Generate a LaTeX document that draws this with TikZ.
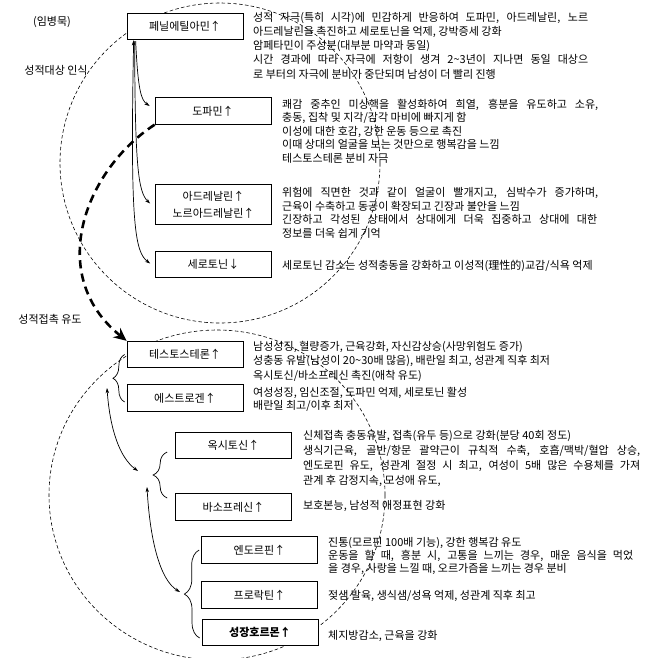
\documentclass[tikz,border=0pt]{standalone}
\usepackage{fontspec}
\setmainfont{Noto Sans CJK KR}
\usetikzlibrary{arrows.meta,calc,decorations.pathreplacing}

\newcommand\figfont{\fontsize{9.4pt}{11.6pt}\selectfont}
\newcommand\jline[2]{\makebox[#1][s]{#2}}

\begin{document}
\begin{tikzpicture}[
  x=0.03cm, y=-0.03cm,
  font=\figfont,
  box/.style={draw, line width=0.6pt, fill=white, align=center, minimum width=3.48cm, minimum height=0.8cm, inner sep=1pt},
  note/.style={anchor=north west, inner sep=0pt, align=left, font=\fontsize{9.4pt}{#1}\selectfont},
  note/.default=11.6pt,
  side/.style={inner sep=0pt},
  zone/.style={dash pattern=on 3pt off 2pt, line width=0.5pt},
  arrow/.style={-{Stealth[length=4.5pt,width=3pt]}, line width=0.6pt},
  twoway/.style={{Stealth[length=4.5pt,width=3pt]}-{Stealth[length=4.5pt,width=3pt]}, line width=0.6pt},
  flow/.style={-{Stealth[length=11pt,width=10pt]}, line width=2.2pt, dash pattern=on 7pt off 4.5pt},
  curly/.style={decorate, decoration={brace, amplitude=#1}, line width=0.6pt}
]
\useasboundingbox (0,0) rectangle (649,658);

% the two dashed zones
\begin{scope}
  \clip (0,0) rectangle (649,658);
  \draw[zone] (220,163) ellipse [x radius=160, y radius=160];
  \draw[zone] (217,495) ellipse [x radius=168, y radius=165];
\end{scope}

% side labels
\node[side] (author) at (52,22) {(임병묵)};
\node[side] (notice) at (56,70) {성적대상 인식};
\node[side] (contact) at (50,319) {성적접촉 유도};

% hormone boxes
\node[box] (phenyl) at (185,26.5) {페닐에틸아민↑};
\node[box] (dopamine) at (213,111) {도파민↑};
\node[box, minimum height=1.2cm, font=\fontsize{9.4pt}{14.5pt}\selectfont] (adrenaline) at (213.5,204.5) {아드레날린↑\\노르아드레날린↑};
\node[box] (serotonin) at (213.5,264.5) {세로토닌↓};
\node[box] (testosterone) at (185,354.5) {테스토스테론↑};
\node[box] (estrogen) at (185,398) {에스트로겐↑};
\node[box] (oxytocin) at (233.5,445.5) {옥시토신↑};
\node[box] (vasopressin) at (233.5,507) {바소프레신↑};
\node[box] (endorphin) at (259.5,550) {엔도르핀↑};
\node[box] (prolactin) at (259.5,595) {프로락틴↑};
\node[box, font=\figfont\bfseries] (growth) at (260,632.5) {성장호르몬↑};

% notes beside the boxes
\node[note=12.1pt] (phenylNote) at (253,12)
  {\jline{10.05cm}{성적 자극(특히 시각)에 민감하게 반응하여 도파민, 아드레날린, 노르}\\
   아드레날린을 촉진하고 세로토닌을 억제, 강박증세 강화\\
   암페타민이 주성분(대부분 마약과 동일)\\
   \jline{10.05cm}{시간 경과에 따라 자극에 저항이 생겨 2\textasciitilde3년이 지나면 동일 대상으}\\
   로 부터의 자극에 분비가 중단되며 남성이 더 빨리 진행};
\node[note=11.5pt] (dopamineNote) at (282,99)
  {\jline{9.48cm}{쾌감 중추인 미상핵을 활성화하여 희열, 흥분을 유도하고 소유,}\\
   충동, 집착 및 지각/감각 마비에 빠지게 함\\
   이성에 대한 호감, 강한 운동 등으로 촉진\\
   이때 상대의 얼굴을 보는 것만으로 행복감을 느낌\\
   테스토스테론 분비 자극};
\node[note=11.7pt] (adrenalineNote) at (282,187)
  {\jline{9.48cm}{위험에 직면한 것과 같이 얼굴이 빨개지고, 심박수가 증가하며,}\\
   근육이 수축하고 동공이 확장되고 긴장과 불안을 느낌\\
   \jline{9.45cm}{긴장하고 각성된 상태에서 상대에게 더욱 집중하고 상대에 대한}\\
   정보를 더욱 쉽게 기억};
\node[note] (serotoninNote) at (282,260)
  {세로토닌 감소는 성적충동을 강화하고 이성적(理性的)교감/식욕 억제};
\node[note=12.3pt] (testosteroneNote) at (253,341)
  {남성성징, 혈량증가, 근육강화, 자신감상승(사망위험도 증가)\\
   성충동 유발(남성이 20\textasciitilde30배 많음), 배란일 최고, 성관계 직후 최저\\
   옥시토신/바소프레신 촉진(애착 유도)};
\node[note=11.1pt] (estrogenNote) at (253,387)
  {여성성징, 임신조절, 도파민 억제, 세로토닌 활성\\
   배란일 최고/이후 최저};
\node[note=12.8pt] (oxytocinNote) at (303,430)
  {신체접촉 충동유발, 접촉(유두 등)으로 강화(분당 40회 정도)\\
   \jline{10.11cm}{생식기근육, 골반/항문 괄약근이 규칙적 수축, 호흡/맥박/혈압 상승,}\\
   \jline{10.11cm}{엔도로핀 유도, 성관계 절정 시 최고, 여성이 5배 많은 수용체를 가져}\\
   관계 후 감정지속, 모성애 유도,};
\node[note] (vasopressinNote) at (303,500) {보호본능, 남성적 애정표현 강화};
\node[note=11.3pt] (endorphinNote) at (328,537)
  {진통(모르핀 100배 기능), 강한 행복감 유도\\
   \jline{9.15cm}{운동을 할 때, 흥분 시, 고통을 느끼는 경우, 매운 음식을 먹었}\\
   을 경우, 사랑을 느낄 때, 오르가즘을 느끼는 경우 분비};
\node[note] (prolactinNote) at (328,590) {젖샘 발육, 생식샘/성욕 억제, 성관계 직후 최고};
\node[note] (growthNote) at (328,630) {체지방감소, 근육을 강화};

% braces grouping the boxes
\draw[curly=0.35cm] ($(estrogen.west)+(-2,4)$) -- ($(testosterone.west)+(-2,0)$);
\draw[curly=0.42cm] ($(vasopressin.west)+(-8,-9)$) -- ($(oxytocin.west)+(-8,6.5)$);
\draw[curly=0.45cm] ($(growth.west)+(-2,5.5)$) -- ($(endorphin.west)+(-2,0)$);
\coordinate (pairTip) at (113,378);
\coordinate (bondTip) at (153,475);
\coordinate (rewardTip) at (185,594);

% connectors
\draw[arrow] ($(phenyl.south west)+(9,1)$) .. controls (138,90) and (141,100) .. ($(dopamine.west)+(-5,-5)$);
\draw[arrow] ($(phenyl.south west)+(8,1)$) .. controls (135,165) and (138,192) .. ($(adrenaline.west)+(-5,-1)$);
\draw[twoway] ($(phenyl.south west)+(7,0)$) .. controls (130,225) and (135,252) .. ($(serotonin.west)+(-5,-1)$);
\draw[flow] (dopamine.south west) .. controls (85,170) and (45,275) .. (testosterone.north west);
\draw[twoway] ($(pairTip)+(-6,10)$) .. controls (110,430) and (120,458) .. ($(bondTip)+(-15,-4)$);
\draw[twoway] ($(bondTip)+(-6,12)$) .. controls (150,540) and (160,580) .. ($(rewardTip)+(-5,-2)$);

\end{tikzpicture}
\end{document}
